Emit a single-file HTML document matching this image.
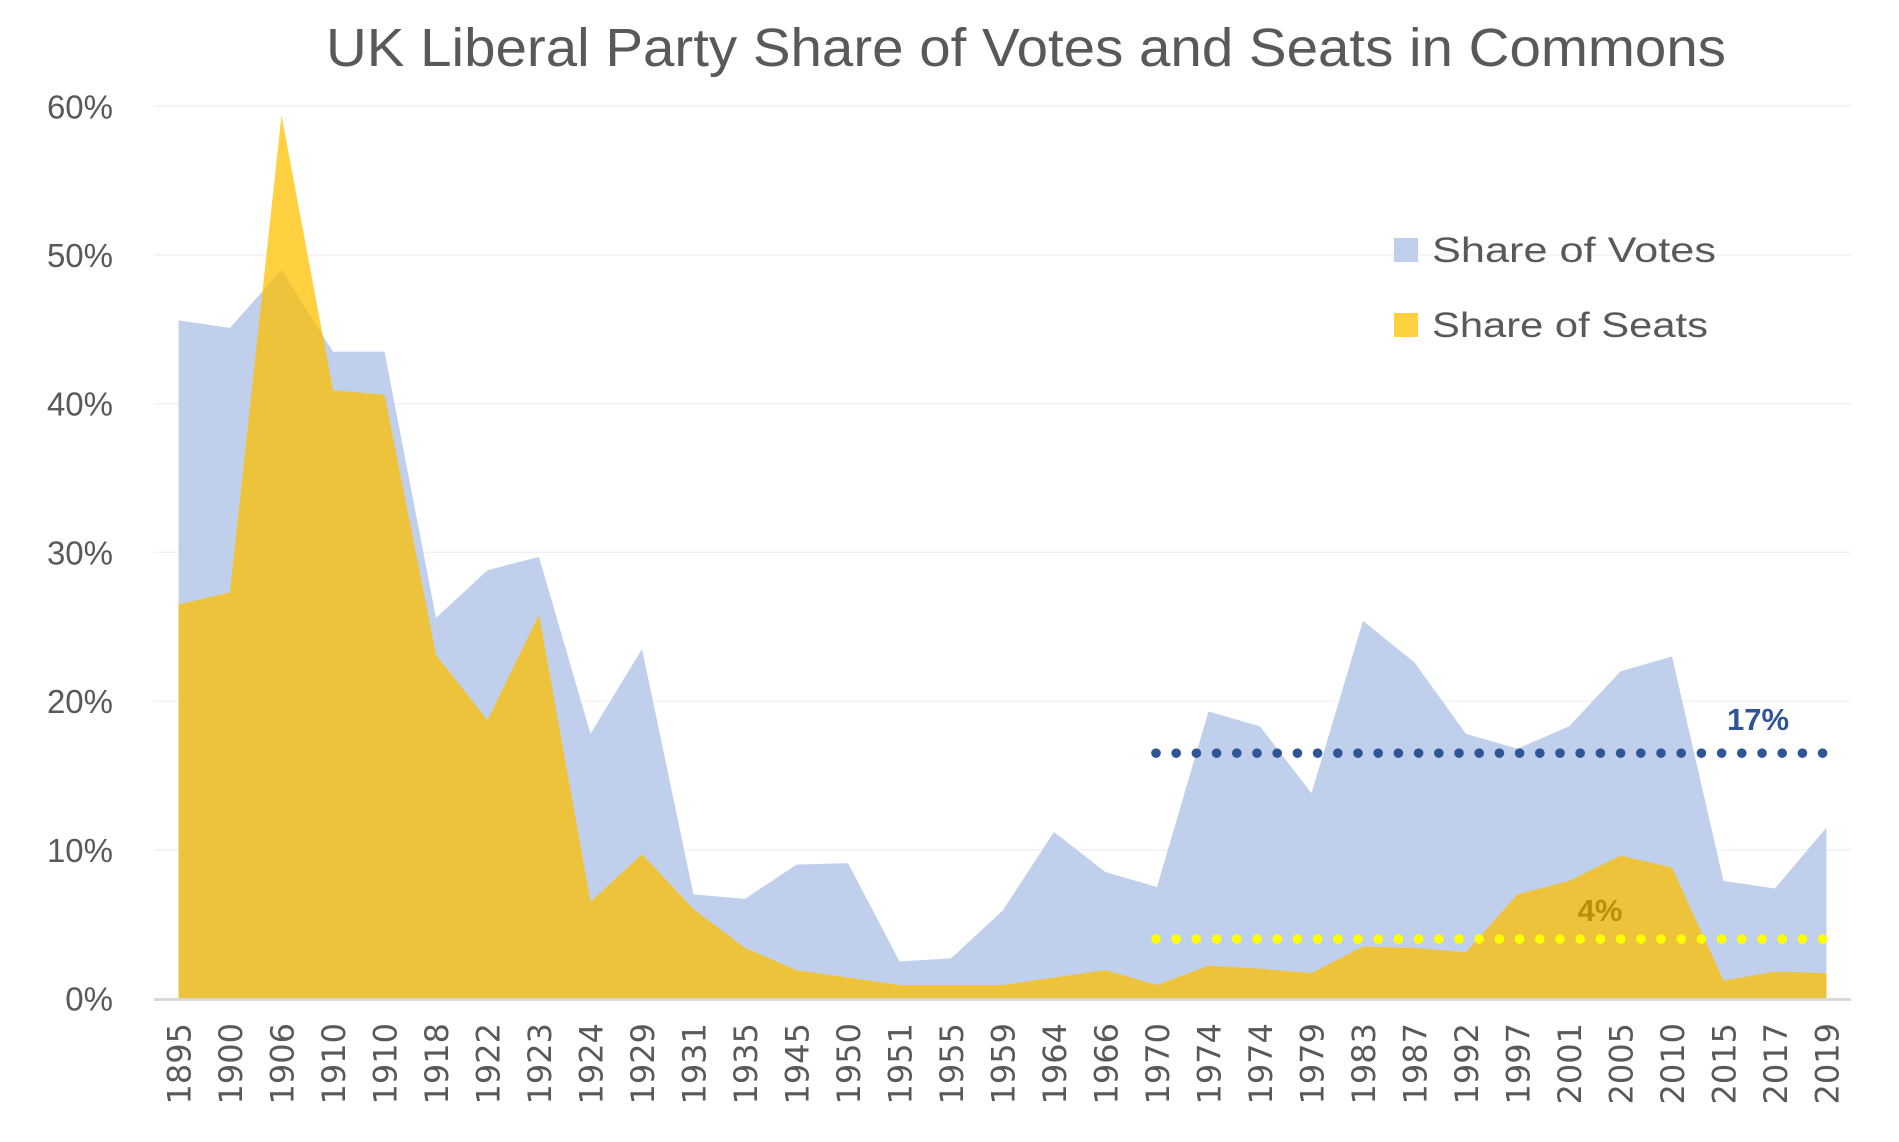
<!DOCTYPE html>
<html><head><meta charset="utf-8"><style>
html,body{margin:0;padding:0;background:#fff;}
svg{display:block;font-family:"Liberation Sans",sans-serif;}
</style></head><body>
<svg id="chart" width="1899" height="1142" viewBox="0 0 1899 1142" xmlns="http://www.w3.org/2000/svg">
<text x="1026" y="66" text-anchor="middle" font-size="54" fill="#595959" textLength="1400" lengthAdjust="spacingAndGlyphs">UK Liberal Party Share of Votes and Seats in Commons</text>
<g id="grid"></g>
<g id="areas"></g>
<line x1="154" y1="999.5" x2="1851" y2="999.5" stroke="#d9d9d9" stroke-width="3"/>
<g id="ylabels"></g>
<g id="xlabels"></g>
<g id="avg"></g>
<g>
<rect x="1394" y="238" width="24" height="24" fill="#c0cfeb"/>
<text x="1432" y="262" font-size="35" fill="#595959" textLength="284" lengthAdjust="spacingAndGlyphs">Share of Votes</text>
<rect x="1394" y="313" width="24" height="24" fill="#ffd040"/>
<text x="1432" y="337" font-size="35" fill="#595959" textLength="276" lengthAdjust="spacingAndGlyphs">Share of Seats</text>
</g>
</svg>
<script>
const categories=["1895","1900","1906","1910","1910","1918","1922","1923","1924","1929","1931","1935","1945","1950","1951","1955","1959","1964","1966","1970","1974","1974","1979","1983","1987","1992","1997","2001","2005","2010","2015","2017","2019"];
const votes=[45.6,45.1,49.0,43.5,43.5,25.6,28.8,29.7,17.8,23.5,7.0,6.7,9.0,9.1,2.5,2.7,5.9,11.2,8.5,7.5,19.3,18.3,13.8,25.4,22.6,17.8,16.8,18.3,22.0,23.0,7.9,7.4,11.5];
const seats=[26.5,27.3,59.4,40.9,40.6,23.1,18.7,25.8,6.5,9.7,6.0,3.4,1.9,1.4,0.9,0.9,0.9,1.4,1.9,0.9,2.2,2.0,1.7,3.5,3.4,3.1,7.0,7.9,9.6,8.8,1.2,1.8,1.7];
const yTicks=[0,10,20,30,40,50,60];
const avgVotes=16.5;
const avgSeats=4.0;
const avgVotesLabel="17%";
const avgSeatsLabel="4%";

const NS="http://www.w3.org/2000/svg";
const X0=178.5, DX=51.5, Y0=998.5, PER=148.7/10;
function xs(i){return X0+i*DX;}
function ys(v){return Y0-v*PER;}
function mk(tag,attrs,parent){const e=document.createElementNS(NS,tag);for(const k in attrs)e.setAttribute(k,attrs[k]);parent.appendChild(e);return e;}

const grid=document.getElementById('grid');
const yl=document.getElementById('ylabels');
yTicks.forEach(t=>{
  if(t>0){const l=mk('line',{x1:154,x2:1851,y1:ys(t),y2:ys(t),stroke:'#f2f2f2','stroke-width':1.5},grid);
  
  }
  const tx=mk('text',{x:113,y:ys(t)+12,'text-anchor':'end','font-size':33,fill:'#595959'},yl);
  tx.textContent=t+'%';
  
  
});

function areaPath(vals){
  let d='M'+xs(0)+','+Y0;
  vals.forEach((v,i)=>{d+=' L'+xs(i)+','+ys(v);});
  d+=' L'+xs(vals.length-1)+','+Y0+' Z';return d;
}
function minPath(a,b){
  let pts=[];
  for(let i=0;i<a.length;i++){
    pts.push([xs(i),ys(Math.min(a[i],b[i]))]);
    if(i<a.length-1){
      const d0=a[i]-b[i], d1=a[i+1]-b[i+1];
      if(d0*d1<0){const t=d0/(d0-d1);const v=a[i]+t*(a[i+1]-a[i]);pts.push([xs(i+t),ys(v)]);}
    }
  }
  let d='M'+xs(0)+','+Y0;pts.forEach(p=>{d+=' L'+p[0]+','+p[1];});
  d+=' L'+xs(a.length-1)+','+Y0+' Z';return d;
}
const areas=document.getElementById('areas');
const va=mk('path',{d:areaPath(votes),fill:'#c0cfeb'},areas);


const sa=mk('path',{d:areaPath(seats),fill:'#ffd040'},areas);


const ov=mk('path',{d:minPath(votes,seats),fill:'#edc33c'},areas);



const xl=document.getElementById('xlabels');
categories.forEach((c,i)=>{
  const x=xs(i)+12, y=1023;
  const t=mk('text',{x:x,y:y,'text-anchor':'end','font-size':32,fill:'#595959','font-family':'"DejaVu Sans",sans-serif',transform:'rotate(-90 '+x+' '+y+')'},xl);
  t.textContent=c;
  
  
});

const avg=document.getElementById('avg');
function dots(v,color,name){
  const g=mk('g',{},avg);
  
  
  for(let x=1156;x<=1823;x+=20.2){mk('circle',{cx:x,cy:ys(v),r:4.8,fill:color},g);}
}
dots(avgVotes,'#2f5597','avg-votes-line');
dots(avgSeats,'#ffff00','avg-seats-line');
const l1=mk('text',{x:1758,y:ys(avgVotes)-23,'text-anchor':'middle','font-size':31,'font-weight':'bold',fill:'#2f5597'},avg);
l1.textContent=avgVotesLabel;


const l2=mk('text',{x:1600,y:ys(avgSeats)-18,'text-anchor':'middle','font-size':31,'font-weight':'bold',fill:'#b8900a'},avg);
l2.textContent=avgSeatsLabel;


</script>
</body></html>
